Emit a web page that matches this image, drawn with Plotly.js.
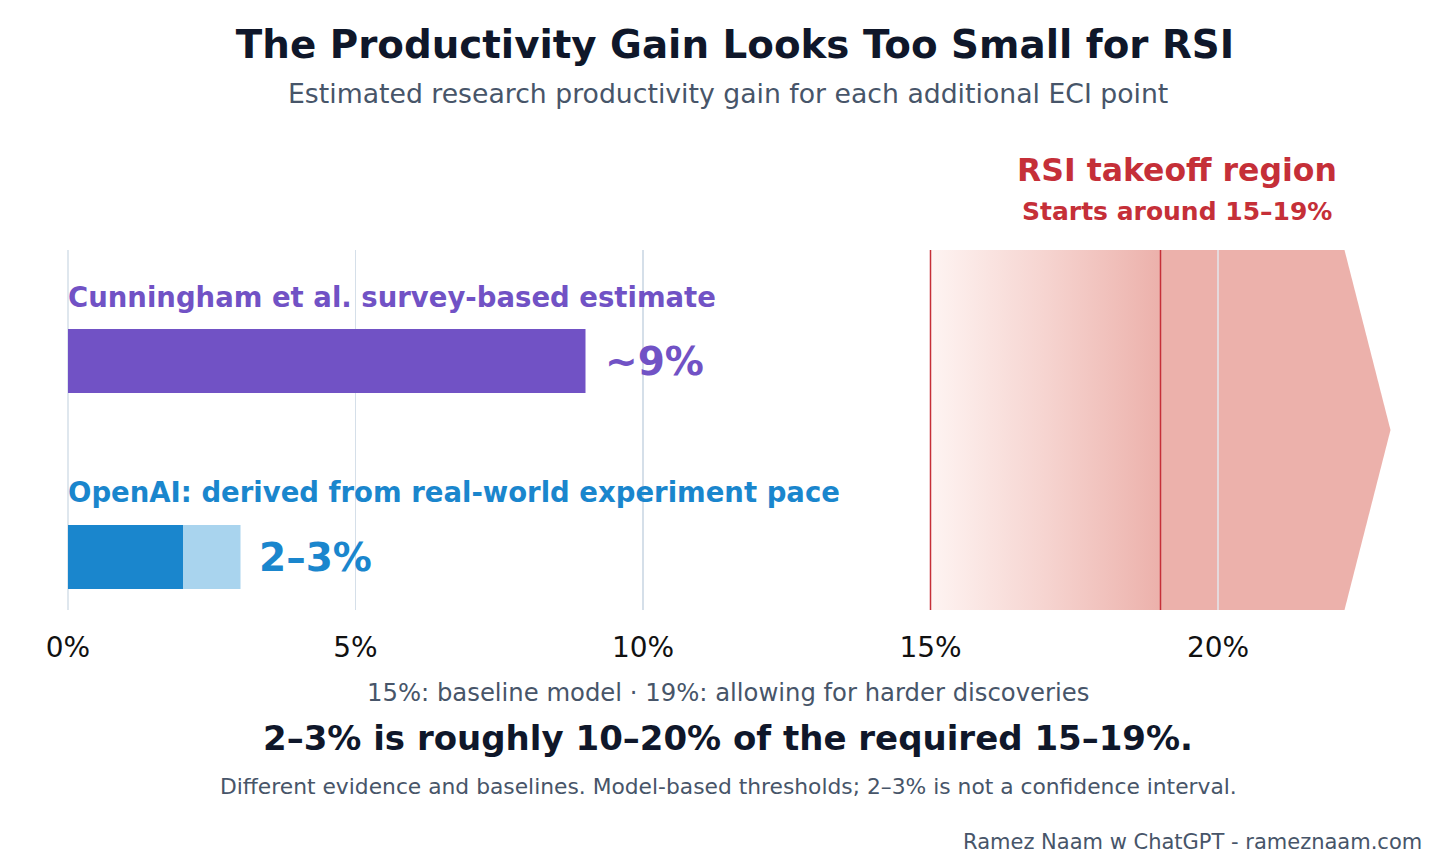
<!DOCTYPE html>
<html>
<head>
<meta charset="utf-8">
<script src="https://cdn.plot.ly/plotly-3.0.1.min.js"></script>
<style>html,body{margin:0;padding:0;background:#fff;}#chart{width:1456px;height:864px;}</style>
</head>
<body>
<div id="chart"></div>
<script>
// ---- data ----
const categories = ['OpenAI', 'Cunningham'];
const categoryLabels = ['OpenAI: derived from real-world experiment pace', 'Cunningham et al. survey-based estimate'];
const cunninghamValue = [9];
const openaiLow = [2];
const openaiHigh = [3];
const valueLabels = ['2–3%', '~9%'];
const thresholds = [15, 19];
const regionEnd = 22.2;
const regionTip = 23.0;
const tickValues = [0, 5, 10, 15, 20];
const tickLabels = ['0%', '5%', '10%', '15%', '20%'];

const FONT = 'DejaVu Sans, Verdana, sans-serif';
const PURPLE = '#7152C5';
const BLUE = '#1A86CD';
const LIGHTBLUE = '#A9D4EE';
const RED = '#C52F38';
const REGION = '#ECB1AB';
const DARK = '#0F172A';
const SLATE = '#475569';
const GRID = '#D5DFE9';
const BARW = 0.3265;

const traces = [
  {
    type: 'scatter', mode: 'lines', xaxis: 'x', yaxis: 'y2',
    x: [thresholds[0], thresholds[0], regionEnd, regionTip, regionEnd, thresholds[0]],
    y: [0, 1, 1, 0.5, 0, 0],
    fill: 'toself', line: {width: 0, color: 'rgba(0,0,0,0)'},
    fillcolor: REGION,
    fillgradient: {type: 'horizontal', start: thresholds[0], stop: thresholds[1],
      colorscale: [[0, '#FEF4F2'], [0.5, '#F6D4D0'], [1, REGION]]},
    hoverinfo: 'skip', showlegend: false
  },
  {
    type: 'bar', orientation: 'h', y: ['Cunningham'], x: cunninghamValue,
    marker: {color: PURPLE, line: {width: 0}}, width: BARW, hoverinfo: 'skip'
  },
  {
    type: 'bar', orientation: 'h', y: ['OpenAI'], x: openaiHigh,
    marker: {color: LIGHTBLUE, line: {width: 0}}, width: BARW, hoverinfo: 'skip'
  },
  {
    type: 'bar', orientation: 'h', y: ['OpenAI'], x: openaiLow,
    marker: {color: BLUE, line: {width: 0}}, width: BARW, hoverinfo: 'skip'
  }
];

const annotations = [
  // category labels
  {xref: 'x', yref: 'y', x: 0, y: categories[1], text: '<b>' + categoryLabels[1] + '</b>', xanchor: 'left', yanchor: 'middle', xshift: -2, yshift: 64, showarrow: false, font: {family: FONT, size: 27.5, color: PURPLE}},
  {xref: 'x', yref: 'y', x: 0, y: categories[0], text: '<b>' + categoryLabels[0] + '</b>', xanchor: 'left', yanchor: 'middle', xshift: -2, yshift: 65, showarrow: false, font: {family: FONT, size: 27.5, color: BLUE}},
  // value labels
  {xref: 'x', yref: 'y', x: cunninghamValue[0], y: categories[1], text: '<b>' + valueLabels[1] + '</b>', xanchor: 'left', yanchor: 'middle', xshift: 17, showarrow: false, font: {family: FONT, size: 39, color: PURPLE}},
  {xref: 'x', yref: 'y', x: openaiHigh[0], y: categories[0], text: '<b>' + valueLabels[0] + '</b>', xanchor: 'left', yanchor: 'middle', xshift: 16, showarrow: false, font: {family: FONT, size: 39, color: BLUE}},
  // region labels
  {xref: 'paper', yref: 'paper', x: (1177 - 68) / 1334, y: (610 - 170) / 360, text: '<b>RSI takeoff region</b>', xanchor: 'center', yanchor: 'middle', showarrow: false, font: {family: FONT, size: 31.5, color: RED}},
  {xref: 'paper', yref: 'paper', x: (1177 - 68) / 1334, y: (610 - 212) / 360, text: '<b>Starts around 15–19%</b>', xanchor: 'center', yanchor: 'middle', showarrow: false, font: {family: FONT, size: 25, color: RED}},
  // subtitle
  {xref: 'paper', yref: 'paper', x: (728 - 68) / 1334, y: (610 - 93) / 360, text: 'Estimated research productivity gain for each additional ECI point', xanchor: 'center', yanchor: 'middle', showarrow: false, font: {family: FONT, size: 26.7, color: SLATE}},
  // bottom notes
  {xref: 'paper', yref: 'paper', x: (728 - 68) / 1334, y: (610 - 692) / 360, text: '15%: baseline model · 19%: allowing for harder discoveries', xanchor: 'center', yanchor: 'middle', showarrow: false, font: {family: FONT, size: 24.3, color: SLATE}},
  {xref: 'paper', yref: 'paper', x: (728 - 68) / 1334, y: (610 - 738) / 360, text: '<b>2–3% is roughly 10–20% of the required 15–19%.</b>', xanchor: 'center', yanchor: 'middle', showarrow: false, font: {family: FONT, size: 34, color: DARK}},
  {xref: 'paper', yref: 'paper', x: (728 - 68) / 1334, y: (610 - 786) / 360, text: 'Different evidence and baselines. Model-based thresholds; 2–3% is not a confidence interval.', xanchor: 'center', yanchor: 'middle', showarrow: false, font: {family: FONT, size: 21.8, color: SLATE}},
  {xref: 'paper', yref: 'paper', x: (1424 - 68) / 1334, y: (610 - 842) / 360, text: 'Ramez Naam w ChatGPT - rameznaam.com', xanchor: 'right', yanchor: 'middle', showarrow: false, font: {family: FONT, size: 21, color: SLATE}}
];

const shapes = [
  {type: 'line', xref: 'paper', yref: 'paper', x0: 0, x1: 0, y0: 0, y1: 1, line: {color: GRID, width: 1.5}, layer: 'below'},
  {type: 'line', xref: 'x', yref: 'paper', x0: 20, x1: 20, y0: 0, y1: 1, line: {color: '#E3E7EC', width: 1.5}, layer: 'above'},
  {type: 'line', xref: 'x', yref: 'paper', x0: thresholds[0], x1: thresholds[0], y0: 0, y1: 1, line: {color: RED, width: 1.5}, layer: 'above'},
  {type: 'line', xref: 'x', yref: 'paper', x0: thresholds[1], x1: thresholds[1], y0: 0, y1: 1, line: {color: RED, width: 1.5}, layer: 'above'}
];

const layout = {
  width: 1456, height: 864,
  paper_bgcolor: '#ffffff', plot_bgcolor: '#ffffff',
  margin: {l: 68, r: 54, t: 250, b: 254, pad: 0},
  showlegend: false,
  barmode: 'overlay',
  font: {family: FONT, color: DARK},
  title: {text: '<b>The Productivity Gain Looks Too Small for RSI</b>', x: 0.5, xanchor: 'center', xref: 'paper', y: 1 - 44 / 864, yanchor: 'middle', font: {family: FONT, size: 38.8, color: DARK}},
  xaxis: {
    range: [0, 23.2], tickvals: tickValues, ticktext: tickLabels,
    showgrid: true, gridcolor: GRID, gridwidth: 1.5,
    zeroline: false, showline: false, ticks: '', ticklabelstandoff: 18,
    tickfont: {family: FONT, size: 28, color: '#111111'}, fixedrange: true
  },
  yaxis: {
    type: 'category', categoryorder: 'array', categoryarray: categories,
    range: [-0.27, 1.567], showgrid: false, zeroline: false, showline: false,
    showticklabels: false, ticks: '', fixedrange: true
  },
  yaxis2: {overlaying: 'y', range: [0, 1], visible: false, fixedrange: true},
  annotations: annotations,
  shapes: shapes
};

Plotly.newPlot('chart', traces, layout, {displayModeBar: false, staticPlot: true});
</script>
</body>
</html>
